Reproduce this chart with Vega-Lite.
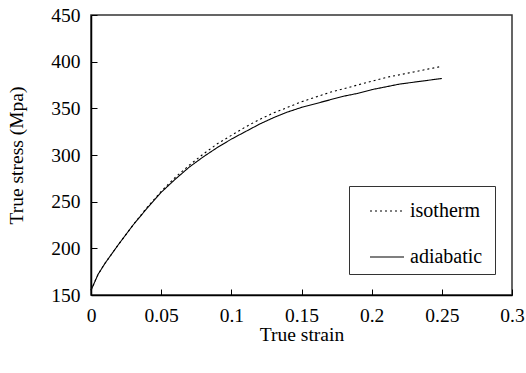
{
  "$schema": "https://vega.github.io/schema/vega-lite/v6.json",
  "autosize": "none",
  "width": 421,
  "height": 280,
  "padding": {"left": 91, "top": 15, "right": 14, "bottom": 78},
  "background": "white",
  "config": {
    "font": "Liberation Serif",
    "view": {"stroke": "#333333", "strokeWidth": 1.5},
    "axis": {"grid": false, "domainColor": "black", "domainWidth": 1.5, "tickColor": "black", "tickWidth": 1, "labelColor": "black", "titleColor": "black", "labelFont": "Liberation Serif", "titleFont": "Liberation Serif", "labelFontSize": 19.5, "titleFontSize": 19.5, "titleFontWeight": "normal"},
    "legend": {"labelFont": "Liberation Serif", "titleFont": "Liberation Serif"}
  },
  "data": {"values": [
    {"strain": 0, "stress": 155, "series": "adiabatic"},
    {"strain": 0.005, "stress": 172, "series": "adiabatic"},
    {"strain": 0.01, "stress": 184, "series": "adiabatic"},
    {"strain": 0.02, "stress": 205, "series": "adiabatic"},
    {"strain": 0.03, "stress": 225, "series": "adiabatic"},
    {"strain": 0.04, "stress": 243, "series": "adiabatic"},
    {"strain": 0.05, "stress": 260, "series": "adiabatic"},
    {"strain": 0.06, "stress": 274, "series": "adiabatic"},
    {"strain": 0.07, "stress": 287, "series": "adiabatic"},
    {"strain": 0.08, "stress": 298, "series": "adiabatic"},
    {"strain": 0.09, "stress": 308, "series": "adiabatic"},
    {"strain": 0.1, "stress": 317, "series": "adiabatic"},
    {"strain": 0.11, "stress": 325, "series": "adiabatic"},
    {"strain": 0.12, "stress": 333, "series": "adiabatic"},
    {"strain": 0.13, "stress": 340, "series": "adiabatic"},
    {"strain": 0.14, "stress": 346, "series": "adiabatic"},
    {"strain": 0.15, "stress": 351, "series": "adiabatic"},
    {"strain": 0.16, "stress": 355, "series": "adiabatic"},
    {"strain": 0.17, "stress": 359, "series": "adiabatic"},
    {"strain": 0.18, "stress": 363, "series": "adiabatic"},
    {"strain": 0.19, "stress": 366, "series": "adiabatic"},
    {"strain": 0.2, "stress": 370, "series": "adiabatic"},
    {"strain": 0.21, "stress": 373, "series": "adiabatic"},
    {"strain": 0.22, "stress": 376, "series": "adiabatic"},
    {"strain": 0.23, "stress": 378, "series": "adiabatic"},
    {"strain": 0.24, "stress": 380, "series": "adiabatic"},
    {"strain": 0.25, "stress": 382, "series": "adiabatic"},
    {"strain": 0, "stress": 155, "series": "isotherm"},
    {"strain": 0.005, "stress": 172, "series": "isotherm"},
    {"strain": 0.01, "stress": 184, "series": "isotherm"},
    {"strain": 0.02, "stress": 205, "series": "isotherm"},
    {"strain": 0.03, "stress": 225, "series": "isotherm"},
    {"strain": 0.04, "stress": 244, "series": "isotherm"},
    {"strain": 0.05, "stress": 261, "series": "isotherm"},
    {"strain": 0.06, "stress": 276, "series": "isotherm"},
    {"strain": 0.07, "stress": 289, "series": "isotherm"},
    {"strain": 0.08, "stress": 301, "series": "isotherm"},
    {"strain": 0.09, "stress": 312, "series": "isotherm"},
    {"strain": 0.1, "stress": 321, "series": "isotherm"},
    {"strain": 0.11, "stress": 330, "series": "isotherm"},
    {"strain": 0.12, "stress": 338, "series": "isotherm"},
    {"strain": 0.13, "stress": 345, "series": "isotherm"},
    {"strain": 0.14, "stress": 351, "series": "isotherm"},
    {"strain": 0.15, "stress": 357, "series": "isotherm"},
    {"strain": 0.16, "stress": 362, "series": "isotherm"},
    {"strain": 0.17, "stress": 367, "series": "isotherm"},
    {"strain": 0.18, "stress": 371, "series": "isotherm"},
    {"strain": 0.19, "stress": 375, "series": "isotherm"},
    {"strain": 0.2, "stress": 379, "series": "isotherm"},
    {"strain": 0.21, "stress": 383, "series": "isotherm"},
    {"strain": 0.22, "stress": 386, "series": "isotherm"},
    {"strain": 0.23, "stress": 389, "series": "isotherm"},
    {"strain": 0.24, "stress": 392, "series": "isotherm"},
    {"strain": 0.25, "stress": 395, "series": "isotherm"}
  ]},
  "mark": {"type": "line", "color": "black", "strokeWidth": 1.1},
  "encoding": {
    "x": {"field": "strain", "type": "quantitative", "title": "True strain",
      "scale": {"domain": [0, 0.3], "nice": false, "zero": false},
      "axis": {"values": [0, 0.05, 0.1, 0.15, 0.2, 0.25, 0.3], "format": "~g", "tickSize": -6, "labelPadding": 17, "titlePadding": 1, "labelFlush": false, "labelFont": "Liberation Serif", "titleFont": "Liberation Serif"}},
    "y": {"field": "stress", "type": "quantitative", "title": "True stress (Mpa)",
      "scale": {"domain": [150, 450], "nice": false, "zero": false},
      "axis": {"values": [150, 200, 250, 300, 350, 400, 450], "tickSize": -6, "labelPadding": 17, "titlePadding": 24, "labelFlush": false, "labelFont": "Liberation Serif", "titleFont": "Liberation Serif"}},
    "strokeDash": {"field": "series", "type": "nominal",
      "scale": {"domain": ["isotherm", "adiabatic"], "range": [[2, 3], [1, 0]]},
      "legend": {"title": " ", "titleOrient": "right", "titlePadding": 6, "titleFontSize": 20, "orient": "none", "legendX": 258, "legendY": 171,
        "direction": "vertical", "symbolType": "stroke", "symbolSize": 1156, "symbolOffset": 13, "symbolStrokeColor": "black", "symbolStrokeWidth": 1.1,
        "labelFont": "Liberation Serif", "labelFontSize": 20, "labelColor": "black", "labelOffset": 5,
        "rowPadding": 18, "padding": 7, "strokeColor": "#333333", "fillColor": "white"}}
  }
}
